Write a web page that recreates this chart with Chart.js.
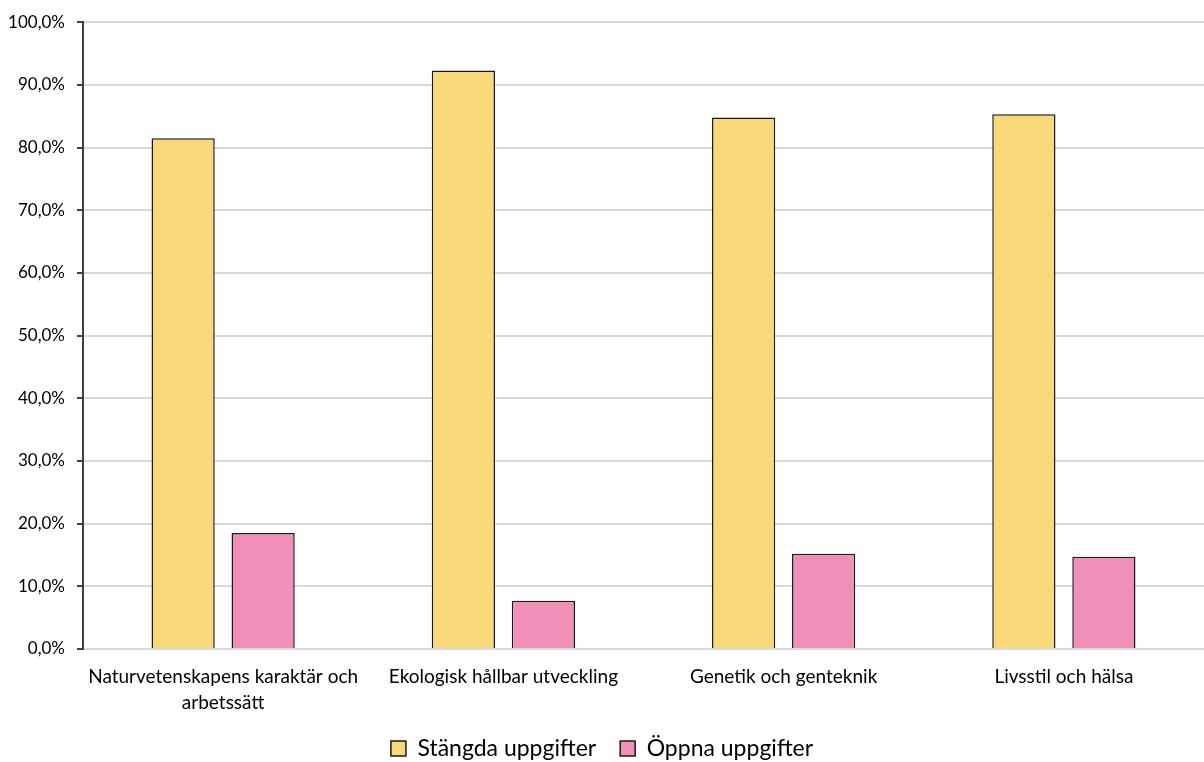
<!DOCTYPE html>
<html>
<head>
<meta charset="utf-8">
<script src="https://cdn.jsdelivr.net/npm/chart.js@4/dist/chart.umd.min.js"></script>
<style>
    html, body { margin: 0; padding: 0; background: #ffffff; }
    #wrap { width: 1204px; height: 762px; position: relative; }
</style>
</head>
<body>
<div id="wrap"><canvas id="chart"></canvas></div>
<script>
const categories = [
    ['Naturvetenskapens karaktär och', 'arbetssätt'],
    'Ekologisk hållbar utveckling',
    'Genetik och genteknik',
    'Livsstil och hälsa'
];
const closedTasks = [81.5, 92.3, 84.8, 85.3];
const openTasks = [18.5, 7.7, 15.2, 14.7];
const seriesNames = ['Stängda uppgifter', 'Öppna uppgifter'];

const fontFamily = 'Lato, "Liberation Sans", sans-serif';

// keep the legend short so the two-line category label fits above it
const legendHeight = {
    id: 'legendHeight',
    afterInit(chart) {
        const legend = chart.legend;
        const origFit = legend.fit;
        legend.fit = function () {
            origFit.call(this);
            this.height = 49;
        };
    }
};

const ctx = document.getElementById('chart').getContext('2d');
const chart = new Chart(ctx, {
    type: 'bar',
    data: {
        labels: categories,
        datasets: [{
            label: seriesNames[0],
            data: closedTasks,
            backgroundColor: '#F8D878',
            borderColor: '#1a1a1a',
            borderWidth: 1.5,
            categoryPercentage: 0.571,
            barPercentage: 0.79
        }, {
            label: seriesNames[1],
            data: openTasks,
            backgroundColor: '#F08FB8',
            borderColor: '#1a1a1a',
            borderWidth: 1.5,
            categoryPercentage: 0.571,
            barPercentage: 0.79
        }]
    },
    options: {
        responsive: true,
        maintainAspectRatio: false,
        animation: false,
        layout: { padding: { top: 22, right: 0, left: 0, bottom: 0 } },
        plugins: {
            tooltip: { enabled: false },
            legend: {
                position: 'bottom',
                labels: {
                    color: '#000',
                    font: { family: fontFamily, size: 23 },
                    boxWidth: 15,
                    boxHeight: 15,
                    padding: 24
                }
            }
        },
        scales: {
            x: {
                grid: { display: false, drawTicks: false },
                border: { color: '#d9d9d9', width: 2 },
                ticks: {
                    color: '#000',
                    font: { family: fontFamily, size: 19, lineHeight: 1.35 },
                    maxRotation: 0,
                    autoSkip: false,
                    padding: 15
                },
                afterFit: (scale) => { scale.height = 64; }
            },
            y: {
                min: 0,
                max: 100,
                ticks: {
                    stepSize: 10,
                    color: '#000',
                    font: { family: fontFamily, size: 17 },
                    padding: 12,
                    callback: (v) => v.toFixed(1).replace('.', ',') + '%'
                },
                grid: {
                    color: '#d9d9d9',
                    lineWidth: 2,
                    tickLength: 6,
                    tickColor: '#404040'
                },
                border: { color: '#404040', width: 2 },
                afterFit: (scale) => { scale.width = 83; }
            }
        }
    },
    plugins: [legendHeight]
});
</script>
</body>
</html>
